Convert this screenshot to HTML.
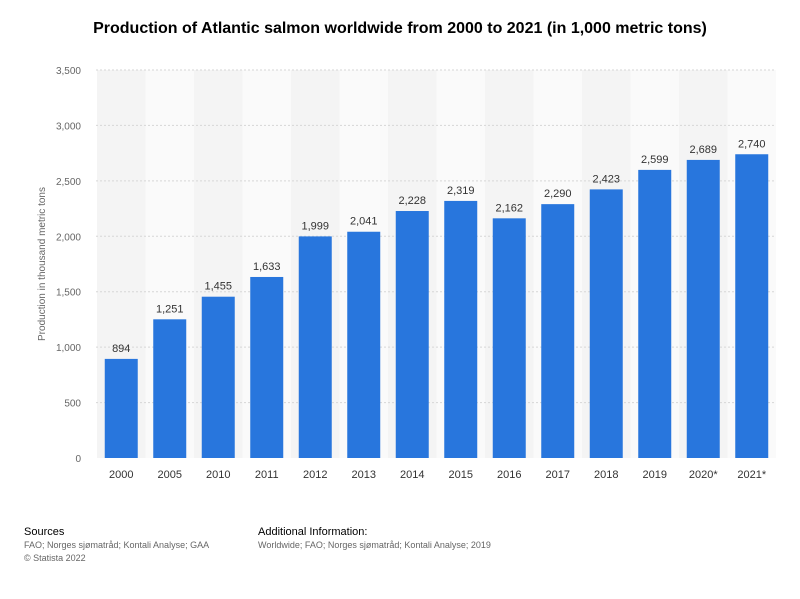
<!DOCTYPE html>
<html><head><meta charset="utf-8"><style>
body{margin:0;background:#fff;font-family:"Liberation Sans",sans-serif;}
#wrap{position:relative;width:800px;height:594px;}
</style></head><body>
<div id="wrap">
<svg id="chart" width="800" height="594"></svg>
</div>
<script>
const categories=["2000","2005","2010","2011","2012","2013","2014","2015","2016","2017","2018","2019","2020*","2021*"];
const values=[894,1251,1455,1633,1999,2041,2228,2319,2162,2290,2423,2599,2689,2740];
const yTicks=[0,500,1000,1500,2000,2500,3000,3500];
const yTickLabels=["0","500","1,000","1,500","2,000","2,500","3,000","3,500"];
const valueLabels=["894","1,251","1,455","1,633","1,999","2,041","2,228","2,319","2,162","2,290","2,423","2,599","2,689","2,740"];

const NS="http://www.w3.org/2000/svg";
const svg=document.getElementById('chart');
const x0=97,band=48.5,plotTop=70,plotBottom=458,yMax=3500,barW=33;
function y(v){return plotBottom-(v/yMax)*(plotBottom-plotTop);}
function xc(i){return x0+band*i+band/2;}
function mk(tag,attrs,name,text){const e=document.createElementNS(NS,tag);for(const k in attrs)e.setAttribute(k,attrs[k]);


if(text!==undefined)e.textContent=text;svg.appendChild(e);return e;}

mk('text',{x:400,y:33,'text-anchor':'middle','font-size':16,'font-weight':'bold',fill:'#000'},'chart-title','Production of Atlantic salmon worldwide from 2000 to 2021 (in 1,000 metric tons)');
categories.forEach((c,i)=>{mk('rect',{x:x0+band*i,y:plotTop,width:band,height:plotBottom-plotTop,fill:i%2===0?'#f4f4f4':'#fafafa'},'column-stripe');});
yTicks.forEach((t,i)=>{
 if(t>0)mk('line',{x1:96,x2:776,y1:y(t),y2:y(t),stroke:'#d6d6d6','stroke-dasharray':'2,2'},'gridline');
 mk('text',{x:81,y:y(t)+4,'text-anchor':'end','font-size':10,fill:'#666'},'y-tick-label',yTickLabels[i]);
});
mk('text',{x:45,y:264,'text-anchor':'middle','font-size':10,fill:'#666',transform:'rotate(-90 45 264)'},'y-axis-title','Production in thousand metric tons');
categories.forEach((c,i)=>{
 const b=mk('rect',{x:xc(i)-barW/2,y:y(values[i]),width:barW,height:plotBottom-y(values[i]),fill:'#2876dd'},'bar-'+c.replace('*',''));
 mk('text',{x:xc(i),y:y(values[i])-7,'text-anchor':'middle','font-size':11,fill:'#333'},'value-label',valueLabels[i]);
 mk('text',{x:xc(i),y:478,'text-anchor':'middle','font-size':11,fill:'#333'},'x-tick-label',c);
});
mk('text',{x:24,y:535,'font-size':11,fill:'#000'},'sources-heading','Sources');
mk('text',{x:24,y:548,'font-size':9,fill:'#666'},'sources-text','FAO; Norges sjømatråd; Kontali Analyse; GAA');
mk('text',{x:24,y:561,'font-size':9,fill:'#666'},'copyright','© Statista 2022');
mk('text',{x:258,y:535,'font-size':11,fill:'#000'},'additional-info-heading','Additional Information:');
mk('text',{x:258,y:548,'font-size':9,fill:'#666'},'additional-info-text','Worldwide; FAO; Norges sjømatråd; Kontali Analyse; 2019');
</script>
</body></html>
